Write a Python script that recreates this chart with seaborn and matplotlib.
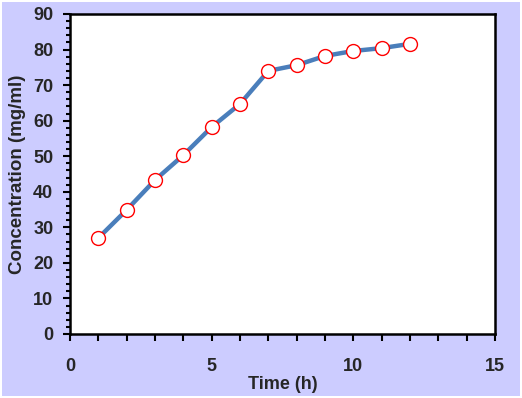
import matplotlib
matplotlib.use("Agg")
import matplotlib.pyplot as plt
import seaborn as sns
import pandas as pd
from matplotlib.ticker import MultipleLocator
from matplotlib.patches import Rectangle

# --- DATA ---
time_h = [1, 2, 3, 4, 5, 6, 7, 8, 9, 10, 11, 12]
concentration = [27.0, 34.9, 43.3, 50.3, 58.2, 64.7, 74.0, 75.6, 78.2, 79.6, 80.4, 81.6]

df = pd.DataFrame({"time": time_h, "conc": concentration})

sns.set_style("white")
plt.rcParams['font.family'] = ['Liberation Sans', 'DejaVu Sans']

fig = plt.figure(figsize=(5.22, 3.98), dpi=100)
fig.patch.set_facecolor('white')
# lavender chart area with thin white margin
fig.patches.append(Rectangle((2 / 522, 2 / 398), 518 / 522, 394 / 398, transform=fig.transFigure,
                             facecolor='#CCCCFF', edgecolor='none', zorder=-10))

ax = fig.add_axes([70 / 522, 64 / 398, 425 / 522, 320 / 398])
ax.set_facecolor('white')

sns.lineplot(data=df, x="time", y="conc", ax=ax, color='#4A7EBB', linewidth=3.2,
             marker='o', markersize=10, markerfacecolor='white', markeredgecolor='#FF0000',
             markeredgewidth=1.0)

ax.set_xlim(0, 15)
ax.set_ylim(0, 90)
ax.xaxis.set_major_locator(MultipleLocator(5))
ax.xaxis.set_minor_locator(MultipleLocator(1))
ax.yaxis.set_major_locator(MultipleLocator(10))
ax.yaxis.set_minor_locator(MultipleLocator(2))

for s in ax.spines.values():
    s.set_color('black')
    s.set_linewidth(1.8)

ax.tick_params(axis='both', which='both', bottom=True, left=True, top=False, right=False,
               direction='out', color='black', width=1.5)
ax.tick_params(axis='both', which='major', length=5, labelsize=13)
ax.tick_params(axis='y', which='minor', length=3)
ax.tick_params(axis='x', which='minor', length=5)
ax.tick_params(axis='x', which='major', pad=12)
ax.tick_params(axis='y', which='major', pad=7)
for lbl in ax.get_xticklabels() + ax.get_yticklabels():
    lbl.set_fontweight('bold')

ax.set_xlabel('Time (h)', fontsize=13, fontweight='bold', labelpad=1)
ax.set_ylabel('Concentration (mg/ml)', fontsize=13.5, fontweight='bold', labelpad=5)

fig.savefig("out.png", dpi=100)
